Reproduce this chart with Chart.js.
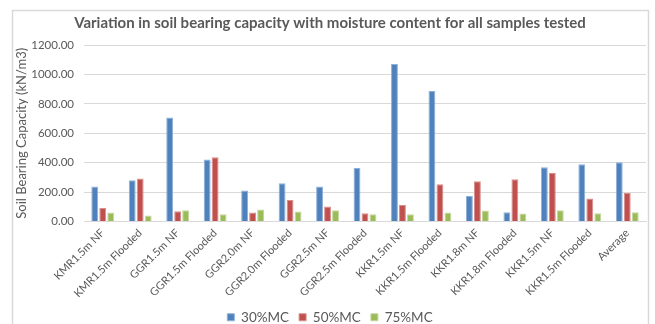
<!DOCTYPE html>
<html>
<head>
<meta charset="utf-8">
<script src="https://cdn.jsdelivr.net/npm/chart.js@4/dist/chart.umd.min.js"></script>
<style>
  html, body { margin: 0; padding: 0; background: #ffffff; }
  #wrap { position: relative; width: 655px; height: 324px; }
</style>
</head>
<body>
<div id="wrap"><canvas id="c" width="655" height="324"></canvas></div>
<script>
// Sample names along the x axis
const categories = [
  "KMR1.5m NF", "KMR1.5m Flooded", "GGR1.5m NF", "GGR1.5m Flooded",
  "GGR2.0m NF", "GGR2.0m Flooded", "GGR2.5m NF", "GGR2.5m Flooded",
  "KKR1.5m NF", "KKR1.5m Flooded", "KKR1.8m NF", "KKR1.8m Flooded",
  "KKR1.5m NF", "KKR1.5m Flooded", "Average"
];

// Soil bearing capacity (kN/m3) at each moisture content
const mc30 = [238, 281, 707, 422, 211, 260, 238, 363, 1070, 888, 174, 63, 369, 390, 403];
const mc50 = [92, 292, 70, 437, 61, 147, 102, 56, 113, 254, 274, 288, 329, 156, 193];
const mc75 = [61, 41, 77, 50, 82, 68, 77, 50, 50, 61, 75, 54, 77, 56, 63];

const seriesNames = ["30%MC", "50%MC", "75%MC"];
const yTicks = [0, 200, 400, 600, 800, 1000, 1200];

const FONT = "Lato, 'Open Sans', sans-serif";
const TEXT = "#595959";

// Light frame around the whole chart
const framePlugin = {
  id: "frame",
  beforeDraw(chart) {
    const ctx = chart.ctx;
    ctx.save();
    ctx.strokeStyle = "#D9D9D9";
    ctx.lineWidth = 1.5;
    ctx.strokeRect(12.5, 10.5, 636, 330);
    ctx.restore();
  }
};

const colors = ["#4F81BD", "#C0504D", "#9BBB59"];
const edges = ["#8FB0D8", "#D98E8C", "#C3D79E"];

new Chart(document.getElementById("c"), {
  type: "bar",
  data: {
    labels: categories,
    datasets: [mc30, mc50, mc75].map((d, i) => ({
      label: seriesNames[i],
      data: d,
      backgroundColor: colors[i],
      borderColor: edges[i],
      borderWidth: 1,
      categoryPercentage: 0.64,
      barPercentage: 0.86
    }))
  },
  options: {
    responsive: false,
    animation: false,
    layout: { padding: { left: 14, right: 9, top: 10, bottom: -10 } },
    plugins: {
      title: {
        display: true,
        text: "Variation in soil bearing capacity with moisture content for all samples tested",
        color: TEXT,
        font: { family: FONT, size: 15, weight: "bold" },
        padding: { top: 4, bottom: 13 }
      },
      legend: {
        position: "bottom",
        labels: {
          color: TEXT,
          font: { family: FONT, size: 13.5 },
          boxWidth: 7,
          boxHeight: 7,
          padding: 10,
          useBorderRadius: false
        }
      },
      tooltip: { enabled: false }
    },
    scales: {
      x: {
        grid: { display: false, drawTicks: false },
        border: { color: "#D9D9D9" },
        ticks: {
          color: TEXT,
          font: { family: FONT, size: 11 },
          maxRotation: 45,
          minRotation: 45,
          autoSkip: false,
          padding: 5
        },
        afterFit(s) { s.height = 79; }
      },
      y: {
        min: 0,
        max: 1200,
        afterBuildTicks(s) { s.ticks = yTicks.map(v => ({ value: v })); },
        grid: { color: "#D9D9D9", drawTicks: false },
        border: { display: false },
        ticks: {
          color: TEXT,
          font: { family: FONT, size: 11.5 },
          padding: 10,
          callback: v => Number(v).toFixed(2)
        },
        title: {
          display: true,
          text: "Soil Bearing Capacity (kN/m3)",
          color: TEXT,
          font: { family: FONT, size: 13 },
          padding: { top: 0, bottom: 6 }
        },
        afterFit(s) { s.width = 70; }
      }
    }
  },
  plugins: [framePlugin]
});
</script>
</body>
</html>
